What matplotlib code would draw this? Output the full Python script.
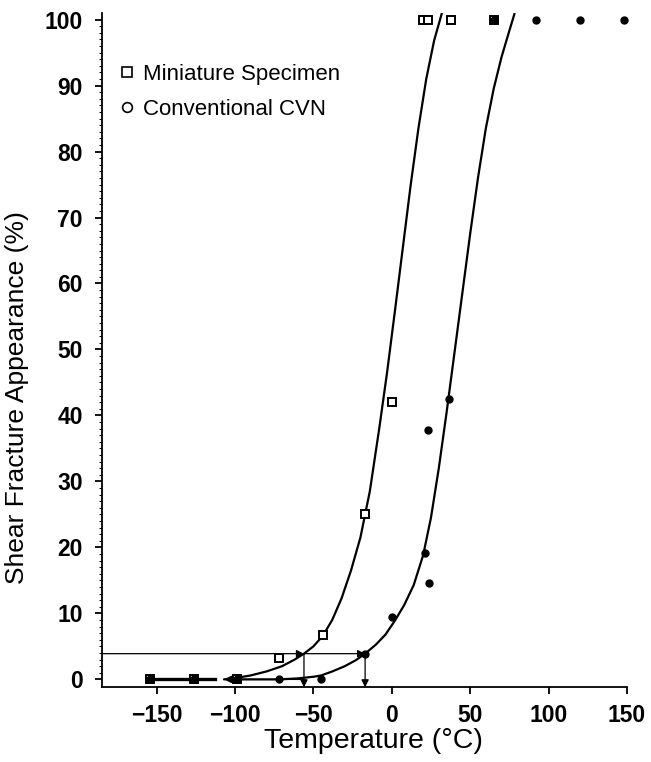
import matplotlib
matplotlib.use("Agg")
import matplotlib.pyplot as plt
from matplotlib.lines import Line2D

plt.rcParams['font.family'] = ['Liberation Sans', 'DejaVu Sans']

# Miniature specimen (open squares)
mini_T = [-154, -126, -99, -72, -44, -17, 0, 20, 23, 38, 65]
mini_S = [0, 0, 0, 3.3, 6.7, 25, 42, 100, 100, 100, 100]

# Conventional CVN (dots)
cvn_T = [-154, -126, -99, -72, -45, -17, 0.4, 21.4, 23.2, 23.8, 36.5, 65, 92, 120, 148]
cvn_S = [0, 0, 0, 0, 0, 3.9, 9.5, 19.1, 37.8, 14.6, 42.5, 100, 100, 100, 100]

# fitted curves
mini_curve_T = [-107, -100, -90, -80, -70, -62, -56, -50, -44, -38, -32, -26, -20,
                -14, -8, -3, 2, 7, 12, 17, 22, 27, 32]
mini_curve_S = [0, 0.2, 0.6, 1.2, 2.0, 3.0, 3.9, 5.0, 6.6, 9.0, 12.3, 16.5, 21.5,
                28.5, 38, 46.5, 55.8, 65.3, 74.8, 83.5, 91, 96.8, 101]
cvn_curve_T = [-99, -72, -60, -50, -45, -38, -30, -23, -17, -10, -4, 2, 8, 14, 20,
               25, 30, 35, 40, 45, 50, 55, 60, 65, 70, 74, 78.3]
cvn_curve_S = [0, 0, 0.15, 0.4, 0.6, 1.2, 2.0, 2.9, 3.9, 5.3, 6.8, 8.9, 11.3, 14.3,
               18.8, 24.5, 32, 40.5, 49.5, 58.5, 67.5, 76, 83.5, 89.5, 94.3, 97.5, 100.9]

# lower shelf segment and transition temperature construction
shelf_T = [-154, -113]
shelf_S = [0, 0]
level = 3.9
T_mini = -56
T_cvn = -17
T_shelf_end = -107

x_ticks = [-150, -100, -50, 0, 50, 100, 150]
y_ticks = [0, 10, 20, 30, 40, 50, 60, 70, 80, 90, 100]

xmin, xmax = -184.7, 150
ymin, ymax = -1.2, 101

fig = plt.figure(figsize=(6.51, 7.62), dpi=100)
ax = fig.add_axes([0.157, 0.098, 0.806, 0.885])

ax.plot(mini_curve_T, mini_curve_S, color="black", lw=1.6, solid_capstyle="round")
ax.plot(cvn_curve_T, cvn_curve_S, color="black", lw=1.6, solid_capstyle="round")
ax.plot(shelf_T, shelf_S, color="black", lw=2.4)

ax.plot(mini_T, mini_S, "s", mfc="white", mec="black", mew=1.4, ms=5.5,
        clip_on=False, zorder=3)
ax.plot(cvn_T, cvn_S, "o", color="black", ms=5, clip_on=False, zorder=4)

ax.set_xlim(xmin, xmax)
ax.set_ylim(ymin, ymax)

arw = dict(arrowstyle="-|>", color="black", lw=0.9, mutation_scale=11,
           shrinkA=0, shrinkB=0)
ax.annotate("", xy=(T_mini, level), xytext=(xmin, level), arrowprops=arw)
ax.annotate("", xy=(T_cvn, level), xytext=(T_mini, level), arrowprops=arw)
ax.annotate("", xy=(T_mini, ymin), xytext=(T_mini, level), arrowprops=arw)
ax.annotate("", xy=(T_cvn, ymin), xytext=(T_cvn, level), arrowprops=arw)
ax.annotate("", xy=(T_shelf_end, 0), xytext=(T_mini, 0), arrowprops=arw)

ax.spines["top"].set_visible(False)
ax.spines["right"].set_visible(False)
ax.spines["left"].set_linewidth(1.3)
ax.spines["bottom"].set_linewidth(1.3)

ax.set_xticks(x_ticks)
ax.set_xticklabels([str(v).replace("-", "\u2212") for v in x_ticks])
ax.set_yticks(y_ticks)
ax.set_yticks(range(0, 101, 1), minor=True)
ax.tick_params(axis="both", which="major", direction="out", length=5, width=1.3,
               labelsize=16.5)
ax.tick_params(axis="x", which="major", pad=7)
ax.tick_params(axis="y", which="major", pad=9)
ax.tick_params(axis="y", which="minor", direction="out", length=2, width=0.7)
for lab in ax.get_xticklabels() + ax.get_yticklabels():
    lab.set_fontweight("bold")

ax.set_xlabel("Temperature (\u00b0C)", fontsize=20.5)
ax.set_ylabel("Shear Fracture Appearance (%)", fontsize=19)
ax.xaxis.set_label_coords(0.516, -0.061)
ax.yaxis.set_label_coords(-0.14, 0.43)

handles = [
    Line2D([], [], ls="none", marker="s", mfc="white", mec="black", mew=1.2, ms=7),
    Line2D([], [], ls="none", marker="o", mfc="white", mec="black", mew=1.2, ms=7),
]
ax.legend(handles, ["Miniature Specimen", "Conventional CVN"], loc="upper left",
          bbox_to_anchor=(0.005, 0.947), frameon=False, fontsize=16,
          handlelength=0.6, handletextpad=0.4, labelspacing=0.63, borderpad=0.2)

fig.savefig("out.png", dpi=100)
